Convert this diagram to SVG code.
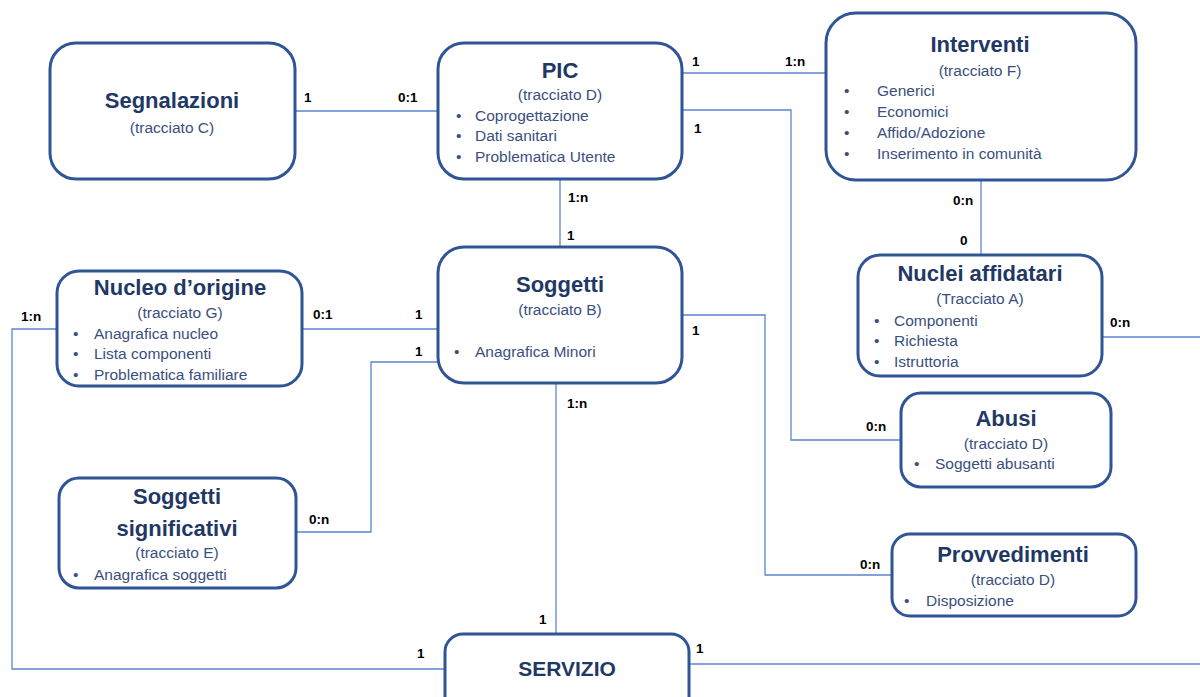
<svg xmlns="http://www.w3.org/2000/svg" width="1200" height="697" viewBox="0 0 1200 697">
<style>
.box{fill:#fff;stroke:#2F5597;stroke-width:3}
.t{font-family:"Liberation Sans",Arial,sans-serif;font-weight:bold;font-size:22px;fill:#1F3864;text-anchor:middle}
.s{font-family:"Liberation Sans",Arial,sans-serif;font-size:15.5px;fill:#3A4F80;text-anchor:middle}
.b{font-family:"Liberation Sans",Arial,sans-serif;font-size:15.5px;fill:#3A4F80}
.l{font-family:"Liberation Sans",Arial,sans-serif;font-weight:bold;font-size:13.5px;fill:#000}
.c{fill:none;stroke:#5B84D0;stroke-width:1.3}
</style>
<rect width="1200" height="697" fill="#fff"/>
<g id="connectors">
<polyline class="c" points="295,111 438,111"/>
<polyline class="c" points="683,73 826,73"/>
<polyline class="c" points="683,110 791,110 791,440 901,440"/>
<polyline class="c" points="560,180 560,247"/>
<polyline class="c" points="981,180 981,255"/>
<polyline class="c" points="1103,337 1200,337"/>
<polyline class="c" points="303,329 438,329"/>
<polyline class="c" points="438,362 371,362 371,532 296,532"/>
<polyline class="c" points="57,329 12,329 12,669 445,669"/>
<polyline class="c" points="683,315 765,315 765,575 892,575"/>
<polyline class="c" points="556,384 556,634"/>
<polyline class="c" points="689,664 1200,664"/>
<text class="l" x="304" y="102">1</text>
<text class="l" x="398" y="102">0:1</text>
<text class="l" x="692" y="66">1</text>
<text class="l" x="785" y="66">1:n</text>
<text class="l" x="694" y="133">1</text>
<text class="l" x="568" y="202">1:n</text>
<text class="l" x="567" y="240">1</text>
<text class="l" x="953" y="205">0:n</text>
<text class="l" x="960" y="245">0</text>
<text class="l" x="313" y="319">0:1</text>
<text class="l" x="415" y="319">1</text>
<text class="l" x="415" y="356">1</text>
<text class="l" x="21" y="321">1:n</text>
<text class="l" x="692" y="335">1</text>
<text class="l" x="567" y="408">1:n</text>
<text class="l" x="1110" y="327">0:n</text>
<text class="l" x="866" y="431">0:n</text>
<text class="l" x="309" y="524">0:n</text>
<text class="l" x="417" y="658">1</text>
<text class="l" x="539" y="624">1</text>
<text class="l" x="696" y="653">1</text>
<text class="l" x="860" y="569">0:n</text>
</g>
<g id="segnalazioni">
<rect class="box" x="50" y="43" width="245" height="136" rx="26"/>
<text class="t" x="172" y="108">Segnalazioni</text>
<text class="s" x="172" y="133">(tracciato C)</text>
</g>
<g id="pic">
<rect class="box" x="438" y="43" width="244" height="136" rx="26"/>
<text class="t" x="560" y="78">PIC</text>
<text class="s" x="560" y="100">(tracciato D)</text>
<text class="b" x="456" y="121">•</text><text class="b" x="475" y="121">Coprogettazione</text>
<text class="b" x="456" y="141">•</text><text class="b" x="475" y="141">Dati sanitari</text>
<text class="b" x="456" y="162">•</text><text class="b" x="475" y="162">Problematica Utente</text>
</g>
<g id="interventi">
<rect class="box" x="826" y="13" width="310" height="167" rx="30"/>
<text class="t" x="980" y="52">Interventi</text>
<text class="s" x="980" y="76">(tracciato F)</text>
<text class="b" x="844" y="96">•</text><text class="b" x="877" y="96">Generici</text>
<text class="b" x="844" y="117">•</text><text class="b" x="877" y="117">Economici</text>
<text class="b" x="844" y="138">•</text><text class="b" x="877" y="138">Affido/Adozione</text>
<text class="b" x="844" y="159">•</text><text class="b" x="877" y="159">Inserimento in comunità</text>
</g>
<g id="nucleo-origine">
<rect class="box" x="57" y="271" width="245" height="115" rx="22"/>
<text class="t" x="180" y="295">Nucleo d’origine</text>
<text class="s" x="180" y="318">(tracciato G)</text>
<text class="b" x="73" y="339">•</text><text class="b" x="94" y="339">Anagrafica nucleo</text>
<text class="b" x="73" y="359">•</text><text class="b" x="94" y="359">Lista componenti</text>
<text class="b" x="73" y="380">•</text><text class="b" x="94" y="380">Problematica familiare</text>
</g>
<g id="soggetti">
<rect class="box" x="438" y="247" width="244" height="136" rx="26"/>
<text class="t" x="560" y="292">Soggetti</text>
<text class="s" x="560" y="315">(tracciato B)</text>
<text class="b" x="454" y="357">•</text><text class="b" x="475" y="357">Anagrafica Minori</text>
</g>
<g id="nuclei-affidatari">
<rect class="box" x="858" y="255" width="244" height="121" rx="22"/>
<text class="t" x="980" y="281">Nuclei affidatari</text>
<text class="s" x="980" y="304">(Tracciato A)</text>
<text class="b" x="874" y="326">•</text><text class="b" x="894" y="326">Componenti</text>
<text class="b" x="874" y="346">•</text><text class="b" x="894" y="346">Richiesta</text>
<text class="b" x="874" y="367">•</text><text class="b" x="894" y="367">Istruttoria</text>
</g>
<g id="abusi">
<rect class="box" x="901" y="393" width="210" height="94" rx="20"/>
<text class="t" x="1006" y="426">Abusi</text>
<text class="s" x="1006" y="449">(tracciato D)</text>
<text class="b" x="914" y="469">•</text><text class="b" x="935" y="469">Soggetti abusanti</text>
</g>
<g id="soggetti-significativi">
<rect class="box" x="59" y="478" width="237" height="110" rx="20"/>
<text class="t" x="177" y="504">Soggetti</text>
<text class="t" x="177" y="536">significativi</text>
<text class="s" x="177" y="558">(tracciato E)</text>
<text class="b" x="73" y="580">•</text><text class="b" x="94" y="580">Anagrafica soggetti</text>
</g>
<g id="provvedimenti">
<rect class="box" x="892" y="534" width="244" height="82" rx="18"/>
<text class="t" x="1013" y="562">Provvedimenti</text>
<text class="s" x="1013" y="585">(tracciato D)</text>
<text class="b" x="904" y="606">•</text><text class="b" x="926" y="606">Disposizione</text>
</g>
<g id="servizio">
<rect class="box" x="445" y="634" width="244" height="90" rx="18"/>
<text class="t" x="567" y="676" style="font-size:21px">SERVIZIO</text>
</g>
</svg>
